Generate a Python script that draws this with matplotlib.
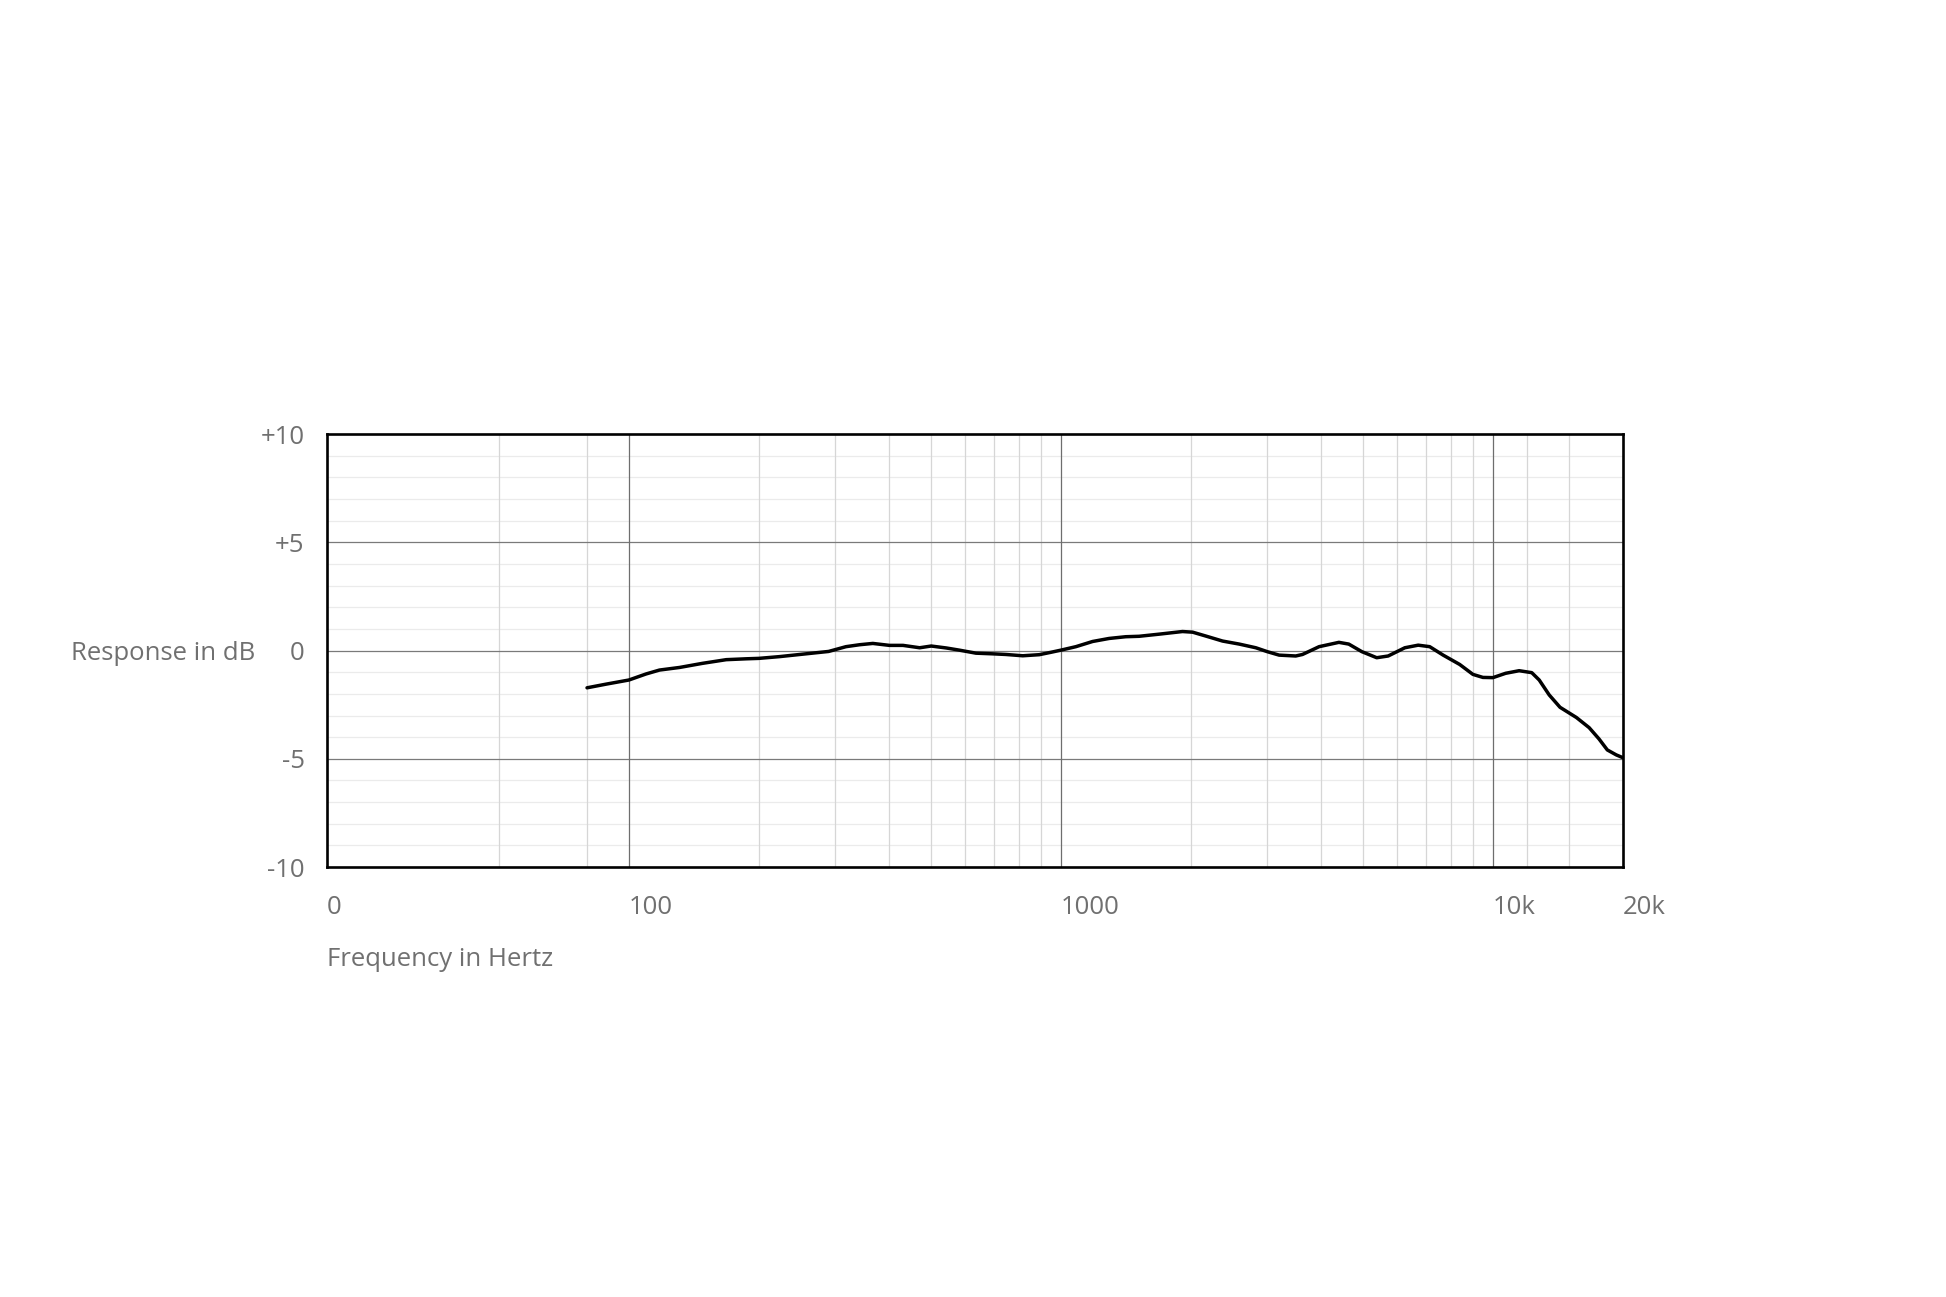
import numpy as np
import matplotlib
matplotlib.use('Agg')
import matplotlib.pyplot as plt
import matplotlib.transforms as mtransforms

# frequency response (Hz, dB)
freq = [80, 88.6, 100, 109.6, 117.7, 131, 148, 168, 187, 200, 223, 257, 290,
        318, 342, 367, 401, 431, 471, 501, 543, 582, 636, 695, 746, 816, 891,
        948, 1000, 1083, 1184, 1293, 1413, 1517, 1691, 1912, 2018, 2166, 2367,
        2587, 2826, 3004, 3200, 3496, 3624, 3959, 4400, 4638, 4973, 5383,
        5722, 6253, 6715, 7140, 7670, 8375, 8990, 9480, 10000, 10700, 11500,
        12300, 12800, 13500, 14300, 15600, 16700, 17600, 18400, 19300, 19950]
response = [-1.72, -1.55, -1.36, -1.08, -0.90, -0.78, -0.59, -0.42, -0.38,
            -0.36, -0.28, -0.15, -0.04, 0.18, 0.27, 0.33, 0.24, 0.24, 0.13,
            0.21, 0.12, 0.02, -0.12, -0.15, -0.18, -0.24, -0.19, -0.08, 0.02,
            0.18, 0.42, 0.56, 0.64, 0.66, 0.76, 0.88, 0.85, 0.67, 0.44, 0.30,
            0.13, -0.05, -0.21, -0.25, -0.18, 0.18, 0.38, 0.30, -0.05, -0.33,
            -0.25, 0.13, 0.25, 0.18, -0.21, -0.64, -1.10, -1.24, -1.25, -1.05,
            -0.93, -1.02, -1.36, -2.05, -2.62, -3.09, -3.56, -4.08, -4.59,
            -4.82, -4.94]

x_ticks = [20, 100, 1000, 10000, 20000]
x_labels = ['0', '100', '1000', '10k', '20k']
y_ticks = [-10, -5, 0, 5, 10]
y_labels = ['-10', '-5', '0', '+5', '+10']
major_vlines = [100, 1000, 10000]
minor_vlines = [50, 80, 200, 300, 400, 500, 600, 700, 800, 900,
                2000, 3000, 4000, 5000, 6000, 7000, 8000, 9000, 12000, 15000]

text_color = '#707070'
fs = 18.5
plt.rcParams['font.family'] = ['Open Sans', 'DejaVu Sans']

fig = plt.figure(figsize=(19.46, 12.97), dpi=100)
ax = fig.add_axes([0.168, 0.3315, 0.666, 0.3338])

ax.set_xscale('log')
ax.set_xlim(20, 20000)
ax.set_ylim(-10, 10)

# grid
for y in range(-9, 10):
    if y % 5 == 0:
        ax.axhline(y, color='#7a7a7a', lw=0.9, zorder=1)
    else:
        ax.axhline(y, color='#ebebeb', lw=0.9, zorder=0)
for f in minor_vlines:
    ax.axvline(f, color='#d6d6d6', lw=0.9, zorder=0)
for f in major_vlines:
    ax.axvline(f, color='#6e6e6e', lw=0.9, zorder=1)

ax.plot(freq, response, color='black', lw=2.5, solid_joinstyle='round',
        solid_capstyle='round', zorder=3)

for s in ax.spines.values():
    s.set_linewidth(1.9)
    s.set_color('black')
    s.set_zorder(4)

ax.minorticks_off()
ax.set_xticks(x_ticks)
ax.set_xticklabels(x_labels)
ax.set_yticks(y_ticks)
ax.set_yticklabels(y_labels)
ax.tick_params(axis='x', length=0, pad=20, labelsize=fs, labelcolor=text_color)
ax.tick_params(axis='y', length=0, pad=16, labelsize=fs, labelcolor=text_color)
for lab in ax.get_xticklabels():
    lab.set_horizontalalignment('left')

trans = mtransforms.blended_transform_factory(ax.transAxes, ax.transData)
ax.text(-0.0556, 0, 'Response in dB', transform=trans, ha='right',
        va='center_baseline', fontsize=fs, color=text_color)
ax.text(0, -0.2125, 'Frequency in Hertz', transform=ax.transAxes, ha='left',
        va='center', fontsize=fs, color=text_color)

fig.savefig('out.png', dpi=100, facecolor='white')
